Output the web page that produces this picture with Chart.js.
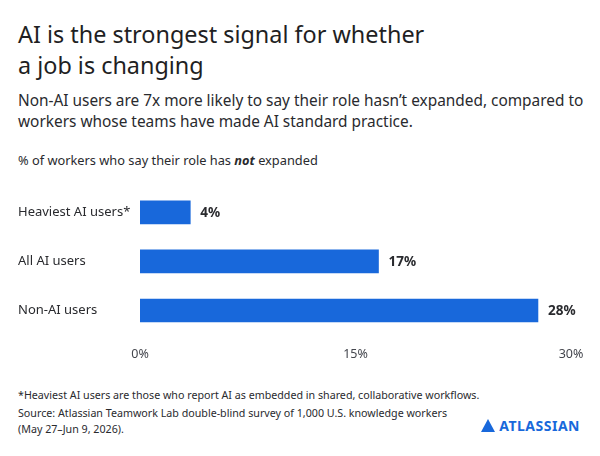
<!DOCTYPE html>
<html><head><meta charset="utf-8">
<script src="https://cdn.jsdelivr.net/npm/chart.js@4"></script>
<style>
body{margin:0;width:600px;height:456px;background:#fff;font-family:"Noto Sans",sans-serif;color:#292a2e;position:relative;overflow:hidden}
.t{position:absolute;left:18px;white-space:nowrap}
#title{top:19px;font-size:23.4px;line-height:31px;font-weight:400;color:#1f1f23}
#sub{top:90px;font-size:15.4px;line-height:21px}
#lab{top:151px;font-size:12.8px}
.f{font-size:10.7px;line-height:16px}
#wrap{position:absolute;left:0;top:177px;width:600px;height:200px}
#logo{position:absolute;right:20px;top:416px;font-size:14px;font-weight:700;color:#1868db;letter-spacing:0.5px}
</style></head><body>
<div class="t" id="title">AI is the strongest signal for whether<br>a job is changing</div>
<div class="t" id="sub">Non-AI users are 7x more likely to say their role hasn’t expanded, compared to<br>workers whose teams have made AI standard practice.</div>
<div class="t" id="lab">% of workers who say their role has <b><i>not</i></b> expanded</div>
<div id="wrap"><canvas id="c"></canvas></div>
<div class="t f" style="top:387px">*Heaviest AI users are those who report AI as embedded in shared, collaborative workflows.</div>
<div class="t f" style="top:405px">Source: Atlassian Teamwork Lab double-blind survey of 1,000 U.S. knowledge workers<br>(May 27–Jun 9, 2026).</div>
<div id="logo"><svg width="14" height="13" viewBox="0 0 14 13" style="vertical-align:-1px;margin-right:4px"><path d="M7 0 L14 13 L0 13 Z" fill="#1868db"/></svg>ATLASSIAN</div>
<script>
const categories=["Heaviest AI users*","All AI users","Non-AI users"];
const values=[3.5,16.6,27.7];
const valueLabels=["4%","17%","28%"];
const ticks=[0,15,30];
const labelPlugin={id:"lbl",afterDatasetsDraw(ch){const ctx=ch.ctx;const m=ch.getDatasetMeta(0);ctx.save();ctx.font="bold 13.5px 'Noto Sans'";ctx.fillStyle="#292a2e";ctx.textBaseline="middle";m.data.forEach((b,i)=>ctx.fillText(valueLabels[i],b.x+10,b.y+1));ctx.restore();}};
new Chart(document.getElementById("c"),{type:"bar",data:{labels:categories,datasets:[{data:values,backgroundColor:"#1868db",barThickness:23}]},
options:{indexAxis:"y",responsive:true,maintainAspectRatio:false,animation:false,
layout:{padding:{left:18,right:29,top:5,bottom:0}},
plugins:{legend:{display:false},tooltip:{enabled:false}},
scales:{x:{min:0,max:30,afterBuildTicks(a){a.ticks=ticks.map(v=>({value:v}));},grid:{display:false},border:{display:false},afterFit(a){a.height=42;},
ticks:{padding:4,color:"#44464d",font:{size:12.5,family:"Noto Sans"},callback:v=>v+"%"}},
y:{grid:{display:false},border:{display:false},afterFit(a){a.width=122;},ticks:{crossAlign:"far",color:"#292a2e",font:{size:13,family:"Noto Sans"}}}}},
plugins:[labelPlugin]});
</script></body></html>
